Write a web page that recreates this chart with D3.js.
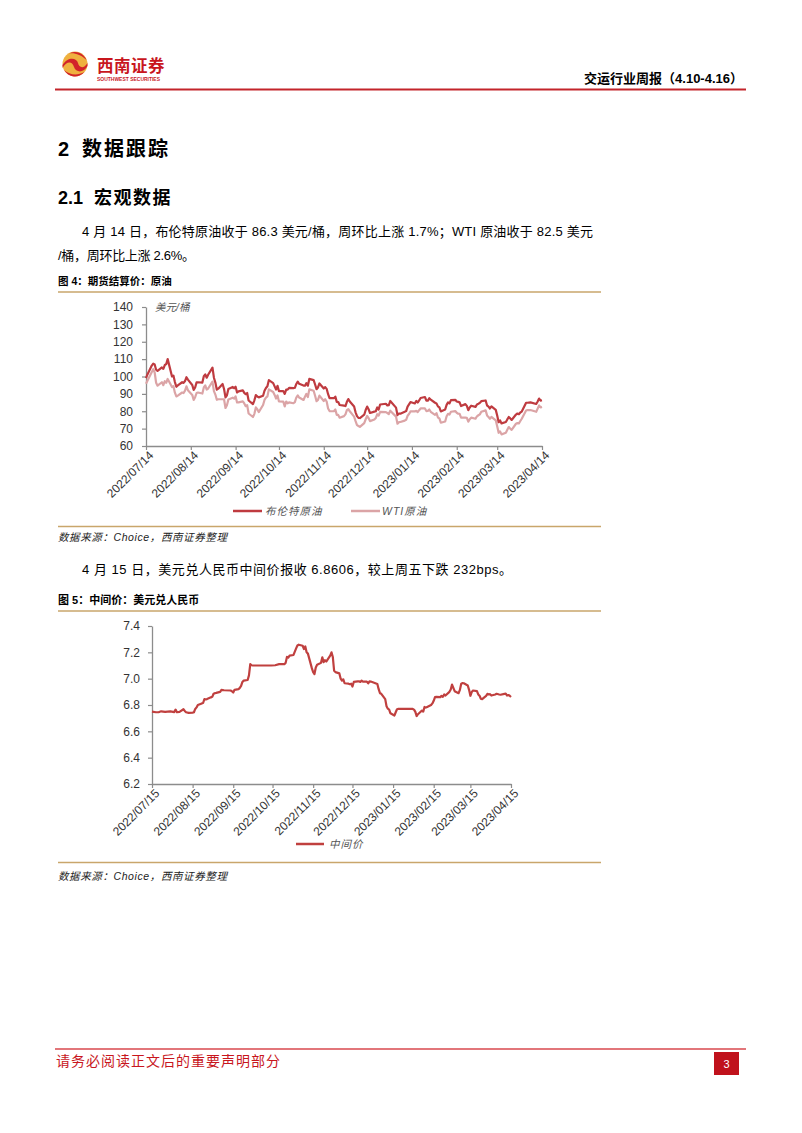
<!DOCTYPE html>
<html><head><meta charset="utf-8">
<script src="https://cdn.jsdelivr.net/npm/d3@7"></script>
<style>
html,body{margin:0;padding:0;background:#fff;}
svg{display:block;font-family:"Liberation Sans",Arial,"Noto Sans CJK SC",sans-serif;}
</style></head><body>
<svg id="page" width="802" height="1133"></svg>
<script>
// ---------- DATA ----------
const oilDates = [
"2022-07-14","2022-07-15","2022-07-18","2022-07-19","2022-07-20","2022-07-21","2022-07-22","2022-07-25","2022-07-26","2022-07-27","2022-07-28","2022-07-29",
"2022-08-01","2022-08-02","2022-08-03","2022-08-04","2022-08-05","2022-08-08","2022-08-09","2022-08-10","2022-08-11","2022-08-12","2022-08-15","2022-08-16","2022-08-17","2022-08-18","2022-08-19","2022-08-22","2022-08-23","2022-08-24","2022-08-25","2022-08-26","2022-08-29","2022-08-30","2022-08-31",
"2022-09-01","2022-09-02","2022-09-05","2022-09-06","2022-09-07","2022-09-08","2022-09-09","2022-09-12","2022-09-13","2022-09-14","2022-09-15","2022-09-16","2022-09-19","2022-09-20","2022-09-21","2022-09-22","2022-09-23","2022-09-26","2022-09-27","2022-09-28","2022-09-29","2022-09-30",
"2022-10-03","2022-10-04","2022-10-05","2022-10-06","2022-10-07","2022-10-10","2022-10-11","2022-10-12","2022-10-13","2022-10-14","2022-10-17","2022-10-18","2022-10-19","2022-10-20","2022-10-21","2022-10-24","2022-10-25","2022-10-26","2022-10-27","2022-10-28","2022-10-31",
"2022-11-01","2022-11-02","2022-11-03","2022-11-04","2022-11-07","2022-11-08","2022-11-09","2022-11-10","2022-11-11","2022-11-14","2022-11-15","2022-11-16","2022-11-17","2022-11-18","2022-11-21","2022-11-22","2022-11-23","2022-11-24","2022-11-25","2022-11-28","2022-11-29","2022-11-30",
"2022-12-01","2022-12-02","2022-12-05","2022-12-06","2022-12-07","2022-12-08","2022-12-09","2022-12-12","2022-12-13","2022-12-14","2022-12-15","2022-12-16","2022-12-19","2022-12-20","2022-12-21","2022-12-22","2022-12-23","2022-12-27","2022-12-28","2022-12-29","2022-12-30",
"2023-01-03","2023-01-04","2023-01-05","2023-01-06","2023-01-09","2023-01-10","2023-01-11","2023-01-12","2023-01-13","2023-01-16","2023-01-17","2023-01-18","2023-01-19","2023-01-20","2023-01-23","2023-01-24","2023-01-25","2023-01-26","2023-01-27","2023-01-30","2023-01-31",
"2023-02-01","2023-02-02","2023-02-03","2023-02-06","2023-02-07","2023-02-08","2023-02-09","2023-02-10","2023-02-13","2023-02-14","2023-02-15","2023-02-16","2023-02-17","2023-02-20","2023-02-21","2023-02-22","2023-02-23","2023-02-24","2023-02-27","2023-02-28",
"2023-03-01","2023-03-02","2023-03-03","2023-03-06","2023-03-07","2023-03-08","2023-03-09","2023-03-10","2023-03-13","2023-03-14","2023-03-15","2023-03-16","2023-03-17","2023-03-20","2023-03-21","2023-03-22","2023-03-23","2023-03-24","2023-03-27","2023-03-28","2023-03-29","2023-03-30","2023-03-31",
"2023-04-03","2023-04-04","2023-04-05","2023-04-06","2023-04-10","2023-04-11","2023-04-12","2023-04-13","2023-04-14"
];
const brent = [
99.1,101.2,106.3,107.4,106.9,103.9,103.2,105.2,104.4,106.6,107.1,110.0,
100.0,100.5,96.8,94.1,94.9,96.7,96.3,97.4,99.6,98.2,95.1,92.3,93.7,96.6,96.7,96.5,100.2,101.2,99.3,101.0,105.1,99.3,96.5,
92.4,93.0,95.7,92.8,88.0,89.2,92.8,94.0,93.2,94.1,90.8,91.4,92.0,90.6,89.8,90.5,86.2,84.1,86.3,89.3,88.5,88.0,
88.9,91.8,93.4,94.4,97.9,96.2,94.3,92.5,94.6,91.6,91.6,90.0,92.4,92.4,93.5,93.3,93.5,95.7,97.0,95.8,94.8,
94.7,96.2,94.7,98.6,97.9,95.4,92.7,93.7,96.0,93.1,93.9,92.9,89.8,87.6,87.5,88.4,85.4,85.3,83.6,83.2,83.0,85.4,
87.0,85.6,82.7,79.4,77.2,76.2,76.1,78.0,80.7,82.7,81.2,79.0,79.8,80.0,82.2,81.0,83.9,84.3,83.3,83.5,85.9,
82.1,77.8,78.7,78.6,79.7,80.1,82.7,84.0,85.3,84.5,85.9,85.0,86.2,87.6,88.2,86.1,86.1,87.5,86.7,84.9,84.5,
82.8,82.2,79.9,81.0,83.7,85.1,84.5,86.4,86.6,85.6,85.4,85.1,83.0,84.1,83.1,80.6,82.2,83.2,82.5,83.9,
84.3,84.8,85.8,86.2,83.3,82.7,81.6,82.8,80.8,77.5,73.7,74.7,73.0,73.8,75.3,76.7,75.9,75.0,78.1,78.7,78.3,79.3,79.8,
84.9,84.9,85.0,85.1,84.2,85.6,87.3,86.1,86.3
];
const wti = [
95.8,97.6,102.6,104.2,102.3,96.4,94.7,96.7,95.0,97.3,96.4,98.6,
93.9,94.4,90.7,88.5,89.0,90.8,90.5,91.9,94.3,92.1,89.4,86.5,88.1,90.5,90.8,90.2,93.7,94.9,92.5,93.1,97.0,91.6,89.6,
86.6,86.9,86.9,86.9,81.9,83.5,86.8,87.8,87.3,88.5,85.1,85.1,85.7,84.5,82.9,83.5,78.7,76.7,78.5,82.2,81.2,79.5,
83.6,86.5,87.8,88.5,92.6,91.1,89.4,87.3,89.1,85.6,85.5,82.8,85.6,84.5,85.1,84.6,85.3,87.9,89.1,87.9,86.5,
88.4,90.0,88.2,92.6,91.8,88.9,85.8,86.5,89.0,85.9,86.9,85.6,81.6,80.1,80.0,81.0,77.9,77.9,76.3,77.2,78.2,80.6,
81.2,80.0,76.9,74.3,72.0,71.5,71.0,73.2,75.4,77.3,76.1,74.3,75.2,76.1,78.3,77.5,79.6,79.5,79.0,78.4,80.3,
76.9,72.8,73.7,73.8,74.6,75.1,77.4,78.4,79.9,79.9,80.2,79.5,80.6,81.6,81.6,80.1,80.2,81.0,79.7,77.9,78.9,
76.4,75.9,73.4,74.1,77.1,78.5,78.1,79.7,80.1,79.1,78.6,78.5,76.3,76.3,76.2,74.0,75.4,76.3,75.7,77.1,
77.7,78.2,79.7,80.5,77.6,76.7,75.7,76.7,74.8,71.3,67.6,68.4,66.7,67.6,69.3,70.9,70.0,69.3,72.8,73.2,73.0,74.4,75.7,
80.4,80.7,80.6,80.7,79.7,81.5,83.3,82.2,82.5
];
const oilSeriesNames = ["布伦特原油","WTI原油"];
const oilTickLabels = ["2022/07/14","2022/08/14","2022/09/14","2022/10/14","2022/11/14","2022/12/14","2023/01/14","2023/02/14","2023/03/14","2023/04/14"];
const oilYTicks = [60,70,80,90,100,110,120,130,140];

const fxDates = [
"2022-07-15","2022-07-18","2022-07-20","2022-07-22","2022-07-25","2022-07-27","2022-07-29",
"2022-08-01","2022-08-02","2022-08-03","2022-08-05","2022-08-08","2022-08-09","2022-08-10","2022-08-12","2022-08-15","2022-08-16","2022-08-17","2022-08-18","2022-08-19","2022-08-22","2022-08-23","2022-08-24","2022-08-25","2022-08-26","2022-08-29","2022-08-30","2022-08-31",
"2022-09-01","2022-09-02","2022-09-05","2022-09-06","2022-09-08","2022-09-13","2022-09-14","2022-09-15","2022-09-16","2022-09-19","2022-09-20","2022-09-21","2022-09-22","2022-09-23","2022-09-26","2022-09-27","2022-09-28","2022-09-29","2022-09-30",
"2022-10-10","2022-10-14","2022-10-17","2022-10-20","2022-10-24","2022-10-25","2022-10-26","2022-10-27","2022-10-28","2022-10-31",
"2022-11-01","2022-11-02","2022-11-03","2022-11-04","2022-11-07","2022-11-08","2022-11-09","2022-11-10","2022-11-11","2022-11-14","2022-11-15","2022-11-16","2022-11-17","2022-11-18","2022-11-21","2022-11-22","2022-11-23","2022-11-24","2022-11-25","2022-11-28","2022-11-29","2022-11-30",
"2022-12-01","2022-12-02","2022-12-05","2022-12-06","2022-12-07","2022-12-08","2022-12-09","2022-12-12","2022-12-13","2022-12-14","2022-12-15","2022-12-16","2022-12-19","2022-12-20","2022-12-21","2022-12-22","2022-12-23","2022-12-26","2022-12-27","2022-12-28","2022-12-29","2022-12-30",
"2023-01-03","2023-01-04","2023-01-05","2023-01-06","2023-01-09","2023-01-10","2023-01-11","2023-01-12","2023-01-13","2023-01-16","2023-01-17","2023-01-18","2023-01-19","2023-01-20","2023-01-30","2023-01-31",
"2023-02-01","2023-02-02","2023-02-03","2023-02-06","2023-02-07","2023-02-08","2023-02-09","2023-02-10","2023-02-13","2023-02-14","2023-02-15","2023-02-16","2023-02-17","2023-02-20","2023-02-21","2023-02-22","2023-02-23","2023-02-24","2023-02-27","2023-02-28",
"2023-03-01","2023-03-02","2023-03-03","2023-03-06","2023-03-07","2023-03-08","2023-03-09","2023-03-10","2023-03-13","2023-03-14","2023-03-15","2023-03-16","2023-03-17","2023-03-20","2023-03-21","2023-03-22","2023-03-23","2023-03-24","2023-03-27","2023-03-28","2023-03-29","2023-03-30","2023-03-31",
"2023-04-03","2023-04-04","2023-04-06","2023-04-07","2023-04-10","2023-04-11","2023-04-12","2023-04-13","2023-04-14","2023-04-15"
];
const fxMid = [
6.750,6.745,6.745,6.752,6.748,6.750,6.752,
6.746,6.765,6.745,6.748,6.768,6.755,6.745,6.740,6.742,6.745,6.770,6.782,6.800,6.812,6.815,6.845,6.842,6.845,6.858,6.862,6.885,
6.890,6.892,6.900,6.915,6.912,6.910,6.905,6.895,6.915,6.920,6.930,6.945,6.975,6.985,6.990,7.025,7.110,7.102,7.100,
7.100,7.100,7.102,7.110,7.110,7.120,7.165,7.160,7.175,7.180,
7.205,7.230,7.252,7.258,7.250,7.225,7.245,7.200,7.190,7.080,7.050,7.035,7.085,7.105,7.120,7.162,7.125,7.140,7.130,7.175,7.200,7.165,
7.060,7.050,7.040,7.000,6.985,6.995,6.965,6.962,6.958,6.962,6.940,6.975,6.980,6.980,6.975,6.985,6.978,6.978,6.965,6.980,6.978,6.975,
6.960,6.920,6.890,6.885,6.845,6.790,6.772,6.765,6.737,6.720,6.745,6.768,6.770,6.770,6.770,6.765,
6.748,6.716,6.730,6.758,6.750,6.785,6.780,6.785,6.800,6.812,6.832,6.860,6.862,6.860,6.870,6.862,6.880,6.872,6.900,6.918,
6.955,6.930,6.905,6.890,6.915,6.962,6.966,6.965,6.948,6.915,6.870,6.898,6.910,6.905,6.880,6.870,6.848,6.845,6.870,6.885,6.880,6.882,6.872,
6.880,6.885,6.880,6.878,6.885,6.886,6.872,6.876,6.870,6.8606
];
const fxSeriesName = "中间价";
const fxTickLabels = ["2022/07/15","2022/08/15","2022/09/15","2022/10/15","2022/11/15","2022/12/15","2023/01/15","2023/02/15","2023/03/15","2023/04/15"];
const fxYTicks = [6.2,6.4,6.6,6.8,7.0,7.2,7.4];

// ---------- STYLE ----------
const C = {
  brent: "#bf3b40", wti: "#dba4a6", fx: "#c0403f",
  gold: "#c9a66b", red: "#c3242b", axis: "#8c8c8c", tick: "#333", text: "#000"
};
const CJK = '"Liberation Sans",Arial,"Noto Sans CJK SC",sans-serif';

const parseD = d3.timeParse("%Y-%m-%d");
const parseT = d3.timeParse("%Y/%m/%d");
const svg = d3.select("#page");
svg.append("rect").attr("width",802).attr("height",1133).attr("fill","#fff");

// ---------- HEADER ----------
const logo = svg.append("g").attr("transform","translate(75,64)");
logo.append("circle").attr("r",12.5).attr("fill","#efb13f");
logo.append("path").attr("d","M-12.5,1 C-7,-8 2,-6 3,-1 C4,4 9,5 12.5,-1 L12.5,2 C9,9 1,9 -1,3 C-3,-3 -8,-3 -12.5,4 Z").attr("fill","#d2232a");
logo.append("path").attr("d","M-11,6 A12.5,12.5 0 0 0 9.5,8 C3,11.5 -5,11.5 -11,6 Z").attr("fill","#d2232a");
logo.append("path").attr("d","M-6,-10.5 A12.5,12.5 0 0 1 11.5,-4 C6,-9.5 -1,-11.5 -6,-10.5 Z").attr("fill","#d2232a");
svg.append("text").attr("x",97).attr("y",72).attr("font-size",16.5).attr("font-weight","bold")
  .attr("fill","#c8161d").attr("font-family",'"Noto Sans CJK SC",sans-serif').attr("letter-spacing",0.5).text("西南证券");
svg.append("text").attr("x",97).attr("y",81).attr("font-size",5.5).attr("font-weight","bold")
  .attr("fill","#c8161d").attr("textLength",63).attr("lengthAdjust","spacingAndGlyphs").text("SOUTHWEST SECURITIES");
svg.append("text").attr("x",743).attr("y",83).attr("text-anchor","end").attr("font-size",13)
  .attr("font-weight","bold").attr("font-family",CJK).text("交运行业周报（4.10-4.16）");
svg.append("line").attr("x1",55).attr("x2",746).attr("y1",89.5).attr("y2",89.5)
  .attr("stroke",C.red).attr("stroke-width",2);

// ---------- BODY TEXT ----------
svg.append("text").attr("x",58).attr("y",156).attr("font-size",20).attr("font-weight","bold").text("2");
svg.append("text").attr("x",82).attr("y",156).attr("font-size",20).attr("font-weight","bold").attr("letter-spacing",2).text("数据跟踪");
svg.append("text").attr("x",58).attr("y",204).attr("font-size",18).attr("font-weight","bold").text("2.1");
svg.append("text").attr("x",94).attr("y",204).attr("font-size",18).attr("font-weight","bold").attr("letter-spacing",1.5).text("宏观数据");
svg.append("text").attr("x",82).attr("y",236).attr("font-size",13)
  .attr("textLength",511).attr("lengthAdjust","spacing")
  .text("4 月 14 日，布伦特原油收于 86.3 美元/桶，周环比上涨 1.7%；WTI 原油收于 82.5 美元");
svg.append("text").attr("x",58).attr("y",260).attr("font-size",13)
  .attr("textLength",137).attr("lengthAdjust","spacing").text("/桶，周环比上涨 2.6%。");
svg.append("text").attr("x",58).attr("y",285).attr("font-size",10.5).attr("font-weight","bold").text("图 4：期货结算价：原油");
svg.append("line").attr("x1",58).attr("x2",601).attr("y1",292).attr("y2",292).attr("stroke",C.gold).attr("stroke-width",1.5);

svg.append("line").attr("x1",58).attr("x2",601).attr("y1",526.5).attr("y2",526.5).attr("stroke",C.gold).attr("stroke-width",1.5);
svg.append("text").attr("x",58).attr("y",541).attr("font-size",10.5).attr("font-style","italic").attr("fill","#222")
  .attr("letter-spacing",0.6).text("数据来源：Choice，西南证券整理");

svg.append("text").attr("x",82).attr("y",574).attr("font-size",13)
  .attr("textLength",430).attr("lengthAdjust","spacing")
  .text("4 月 15 日，美元兑人民币中间价报收 6.8606，较上周五下跌 232bps。");
svg.append("text").attr("x",58).attr("y",604).attr("font-size",11).attr("font-weight","bold").text("图 5：中间价：美元兑人民币");
svg.append("line").attr("x1",58).attr("x2",601).attr("y1",611).attr("y2",611).attr("stroke",C.gold).attr("stroke-width",1.5);

svg.append("line").attr("x1",58).attr("x2",601).attr("y1",862.5).attr("y2",862.5).attr("stroke",C.gold).attr("stroke-width",1.5);
svg.append("text").attr("x",58).attr("y",880).attr("font-size",10.5).attr("font-style","italic").attr("fill","#222")
  .attr("letter-spacing",0.6).text("数据来源：Choice，西南证券整理");

// ---------- FOOTER ----------
svg.append("line").attr("x1",55).attr("x2",746).attr("y1",1049).attr("y2",1049).attr("stroke","#d9484e").attr("stroke-width",1.5);
svg.append("text").attr("x",56).attr("y",1066).attr("font-size",14).attr("fill","#c8161d").attr("letter-spacing",1)
  .attr("font-family",'"Noto Sans CJK SC",sans-serif').text("请务必阅读正文后的重要声明部分");
svg.append("rect").attr("x",714).attr("y",1052).attr("width",25).attr("height",23).attr("fill","#c0121c");
svg.append("text").attr("x",726.5).attr("y",1068).attr("text-anchor","middle").attr("font-size",11).attr("fill","#fff").text("3");

// ---------- AXIS HELPER ----------
function styleAxis(g){
  g.select(".domain").attr("stroke",C.axis).attr("stroke-width",1.3);
  g.selectAll(".tick line").attr("stroke",C.axis).attr("stroke-width",1.2);
  g.selectAll(".tick text").attr("fill",C.tick).attr("font-size",12).attr("font-family",'"Liberation Sans",Arial,sans-serif');
}

// ---------- CHART 1: OIL ----------
const oil = oilDates.map((d,i)=>({date:parseD(d), b:brent[i], w:wti[i]}));
const x1 = d3.scaleTime().domain([parseT(oilTickLabels[0]), parseT(oilTickLabels[oilTickLabels.length-1])]).range([146,542]);
const y1 = d3.scaleLinear().domain([60,140]).range([446,307]);

const gy1 = svg.append("g").attr("transform","translate(146,0)")
  .call(d3.axisLeft(y1).tickValues(oilYTicks).tickSize(4).tickSizeOuter(0).tickPadding(9));
styleAxis(gy1);
const gx1 = svg.append("g").attr("transform","translate(0,446)")
  .call(d3.axisBottom(x1).tickValues(oilTickLabels.map(parseT)).tickSize(4).tickSizeOuter(0)
    .tickFormat((d,i)=>oilTickLabels[i]));
styleAxis(gx1);
gx1.selectAll(".tick text").attr("text-anchor","end").attr("dx","4").attr("dy","0")
  .attr("transform","translate(0,8) rotate(-45)");

svg.append("text").attr("x",155).attr("y",311).attr("font-size",10.5).attr("font-style","italic")
  .attr("fill","#555").attr("font-family",CJK).text("美元/桶");

const lineW = d3.line().x(d=>x1(d.date)).y(d=>y1(d.w));
const lineB = d3.line().x(d=>x1(d.date)).y(d=>y1(d.b));
svg.append("path").datum(oil).attr("d",lineW).attr("fill","none").attr("stroke",C.wti).attr("stroke-width",2.2).attr("stroke-linejoin","round");
svg.append("path").datum(oil).attr("d",lineB).attr("fill","none").attr("stroke",C.brent).attr("stroke-width",2.2).attr("stroke-linejoin","round");

// legend 1
const leg1 = [{name:oilSeriesNames[0], c:C.brent, x:233, tx:265},{name:oilSeriesNames[1], c:C.wti, x:351, tx:382}];
leg1.forEach(l=>{
  svg.append("line").attr("x1",l.x).attr("x2",l.x+29).attr("y1",511).attr("y2",511).attr("stroke",l.c).attr("stroke-width",2.5);
  svg.append("text").attr("x",l.tx).attr("y",515).attr("font-size",10.5).attr("fill","#555")
    .attr("font-style","italic").attr("letter-spacing",1).attr("font-family",CJK).text(l.name);
});

// ---------- CHART 2: FX ----------
const fx = fxDates.map((d,i)=>({date:parseD(d), v:fxMid[i]}));
const x2 = d3.scaleTime().domain([parseT(fxTickLabels[0]), parseT(fxTickLabels[fxTickLabels.length-1])]).range([152,511]);
const y2 = d3.scaleLinear().domain([6.2,7.4]).range([784,626]);

const gy2 = svg.append("g").attr("transform","translate(152,0)")
  .call(d3.axisLeft(y2).tickValues(fxYTicks).tickSize(4).tickSizeOuter(0).tickPadding(8).tickFormat(d3.format(".1f")));
styleAxis(gy2);
const gx2 = svg.append("g").attr("transform","translate(0,784)")
  .call(d3.axisBottom(x2).tickValues(fxTickLabels.map(parseT)).tickSize(4).tickSizeOuter(0)
    .tickFormat((d,i)=>fxTickLabels[i]));
styleAxis(gx2);
gx2.selectAll(".tick text").attr("text-anchor","end").attr("dx","4").attr("dy","0")
  .attr("transform","translate(0,8) rotate(-45)");

const lineF = d3.line().x(d=>x2(d.date)).y(d=>y2(d.v));
svg.append("path").datum(fx).attr("d",lineF).attr("fill","none").attr("stroke",C.fx).attr("stroke-width",2.2).attr("stroke-linejoin","round");

svg.append("line").attr("x1",296).attr("x2",324).attr("y1",844).attr("y2",844).attr("stroke",C.fx).attr("stroke-width",2.5);
svg.append("text").attr("x",329).attr("y",848).attr("font-size",10.5).attr("fill","#555")
  .attr("font-style","italic").attr("letter-spacing",1).attr("font-family",CJK).text(fxSeriesName);
</script>
</body></html>
